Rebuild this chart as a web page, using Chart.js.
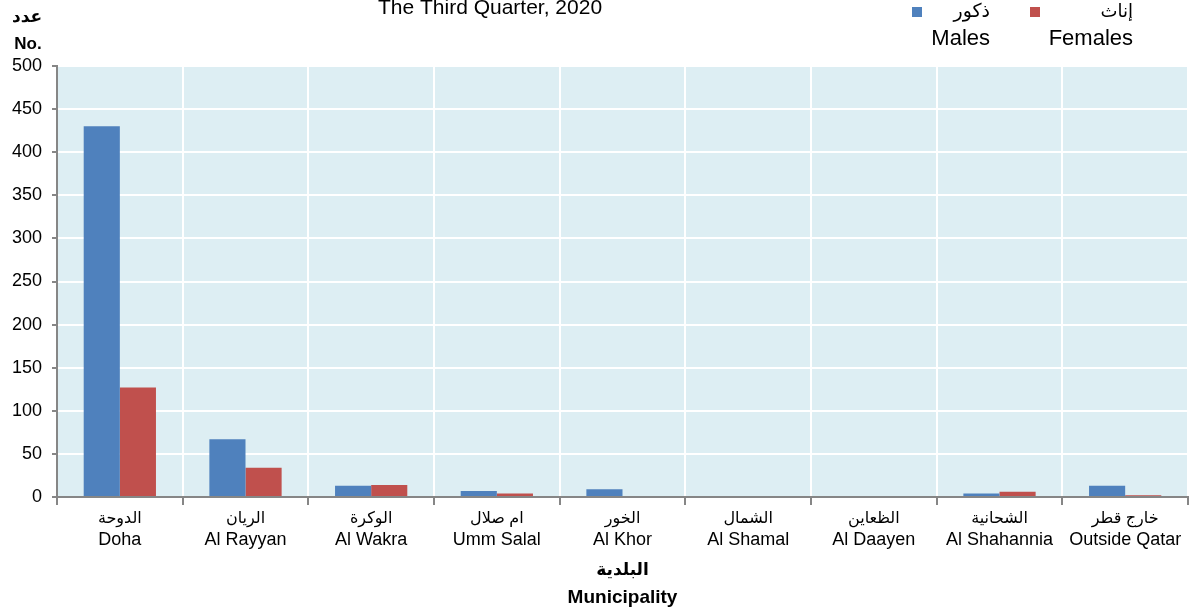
<!DOCTYPE html>
<html>
<head>
<meta charset="utf-8">
<script src="https://cdn.jsdelivr.net/npm/chart.js@4/dist/chart.umd.min.js"></script>
<style>
  html, body { margin: 0; padding: 0; background: #fff; }
  #wrap { width: 1190px; height: 609px; }
</style>
</head>
<body>
<div id="wrap"><canvas id="chart" width="1190" height="609"></canvas></div>
<script>
// municipality labels (arabic / english)
const categoriesAr = ["الدوحة", "الريان", "الوكرة", "ام صلال", "الخور", "الشمال", "الظعاين", "الشحانية", "خارج قطر"];
const categoriesEn = ["Doha", "Al Rayyan", "Al Wakra", "Umm Salal", "Al Khor", "Al Shamal", "Al Daayen", "Al Shahannia", "Outside Qatar"];

const males = [430, 67, 13, 7, 9, 0, 0, 4, 13];
const females = [127, 34, 14, 4, 0, 0, 0, 6, 2];

const seriesAr = ["ذكور", "إناث"];
const seriesEn = ["Males", "Females"];

const yTicks = [0, 50, 100, 150, 200, 250, 300, 350, 400, 450, 500];

const FONT = "'Liberation Sans', Arial, 'DejaVu Sans', sans-serif";
const BLUE = "#4f81bd";
const RED = "#c0504d";

// light blue plot background
const plotBg = {
  id: "plotBg",
  beforeDraw(chart) {
    const { ctx, chartArea: a } = chart;
    ctx.save();
    ctx.fillStyle = "#ddeef3";
    ctx.fillRect(a.left, a.top, a.right - a.left, a.bottom - a.top);
    ctx.restore();
  }
};

// bilingual category labels + axis title (arabic line is smaller than english)
const xLabels = {
  id: "xLabels",
  afterDraw(chart) {
    const { ctx } = chart;
    const x = chart.scales.x;
    const b = chart.chartArea.bottom;
    ctx.save();
    ctx.fillStyle = "#000";
    ctx.textAlign = "center";
    ctx.textBaseline = "middle";
    categoriesEn.forEach((en, i) => {
      const px = x.getPixelForValue(i);
      ctx.font = "16px " + FONT;
      ctx.fillText(categoriesAr[i], px, b + 22);
      ctx.font = "18px " + FONT;
      ctx.fillText(en, px, b + 43);
    });
    const mid = (chart.chartArea.left + chart.chartArea.right) / 2;
    ctx.font = "bold 17px " + FONT;
    ctx.fillText("البلدية", mid, b + 73);
    ctx.font = "bold 19px " + FONT;
    ctx.fillText("Municipality", mid, b + 101);
    ctx.restore();
  }
};

// title, y-axis caption and the two-line legend
const headers = {
  id: "headers",
  afterDraw(chart) {
    const { ctx } = chart;
    ctx.save();
    ctx.fillStyle = "#000";
    ctx.textBaseline = "middle";

    ctx.textAlign = "center";
    ctx.font = "21px " + FONT;
    ctx.fillText("The Third Quarter, 2020", 490, 8);

    ctx.font = "bold 17px " + FONT;
    ctx.fillText("عدد", 27, 17);
    ctx.font = "bold 17px " + FONT;
    ctx.fillText("No.", 28, 44);

    const colors = [BLUE, RED];
    const textRight = [990, 1133];
    const boxLeft = [912, 1030];
    const arSize = [19, 18];
    for (let i = 0; i < 2; i++) {
      ctx.fillStyle = colors[i];
      ctx.fillRect(boxLeft[i], 7, 10, 10);
      ctx.fillStyle = "#000";
      ctx.textAlign = "right";
      ctx.font = arSize[i] + "px " + FONT;
      ctx.fillText(seriesAr[i], textRight[i], 12);
      ctx.font = "22px " + FONT;
      ctx.fillText(seriesEn[i], textRight[i], 39);
    }
    ctx.restore();
  }
};

new Chart(document.getElementById("chart"), {
  type: "bar",
  data: {
    labels: categoriesEn,
    datasets: [
      { label: seriesEn[0], data: males, backgroundColor: BLUE, borderWidth: 0 },
      { label: seriesEn[1], data: females, backgroundColor: RED, borderWidth: 0 }
    ]
  },
  options: {
    responsive: false,
    animation: false,
    layout: { padding: { top: 66, right: 2, left: 0, bottom: 0 } },
    datasets: { bar: { categoryPercentage: 0.575, barPercentage: 1 } },
    plugins: {
      legend: { display: false },
      tooltip: { enabled: false }
    },
    scales: {
      x: {
        afterFit: (s) => { s.height = 112; },
        grid: { offset: true, color: "#ffffff", lineWidth: 2, tickColor: "#868686", tickLength: 8, drawTicks: true },
        border: { color: "#868686", width: 2 },
        ticks: { display: false }
      },
      y: {
        min: 0,
        max: 500,
        afterFit: (s) => { s.width = 57; },
        afterBuildTicks: (s) => { s.ticks = yTicks.map((v) => ({ value: v })); },
        grid: { color: "#ffffff", lineWidth: 2, tickColor: "#868686", tickLength: 5 },
        border: { color: "#868686", width: 2 },
        ticks: {
          padding: 10,
          color: "#000",
          font: { family: FONT, size: 18 }
        }
      }
    }
  },
  plugins: [plotBg, xLabels, headers]
});
</script>
</body>
</html>
